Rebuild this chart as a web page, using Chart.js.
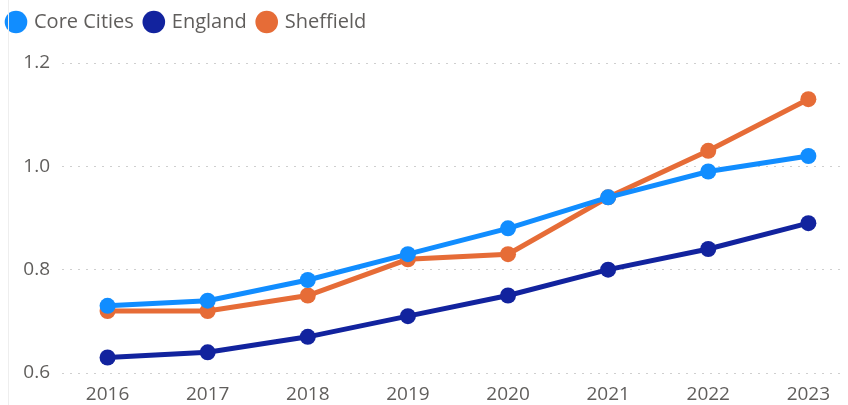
<!DOCTYPE html>
<html>
<head>
<meta charset="utf-8">
<script src="https://cdn.jsdelivr.net/npm/chart.js@4"></script>
<style>
  html, body { margin: 0; padding: 0; background: #fff; }
  #wrap { position: relative; width: 848px; height: 405px; }
  #wrap::before { content: ""; position: absolute; left: 8px; top: 0; bottom: 0; width: 1px; background: #eeeeee; }
</style>
</head>
<body>
<div id="wrap"><canvas id="chart" width="848" height="405"></canvas></div>
<script>
const years = [2016, 2017, 2018, 2019, 2020, 2021, 2022, 2023];
const coreCities = [0.73, 0.74, 0.78, 0.83, 0.88, 0.94, 0.99, 1.02];
const england = [0.63, 0.64, 0.67, 0.71, 0.75, 0.80, 0.84, 0.89];
const sheffield = [0.72, 0.72, 0.75, 0.82, 0.83, 0.94, 1.03, 1.13];
const yTicks = [0.6, 0.8, 1.0, 1.2];

const TEXT = "#605E5C";
const FONT = "'Open Sans', 'Noto Sans', sans-serif";

function series(label, values, color) {
  return {
    label,
    data: years.map((y, i) => ({ x: y, y: values[i] })),
    borderColor: color,
    backgroundColor: color,
    borderWidth: 5,
    pointRadius: 8,
    pointHoverRadius: 8,
    pointBorderWidth: 0,
    tension: 0,
  };
}

// extra space between the legend row and the plot area
const legendGap = {
  id: "legendGap",
  afterInit(chart) {
    const legend = chart.legend;
    if (!legend) return;
    const fit = legend.fit;
    legend.fit = function () {
      fit.call(this);
      this.height += 21;
    };
  },
};

new Chart(document.getElementById("chart"), {
  type: "line",
  data: {
    datasets: [
      series("Core Cities", coreCities, "#118DFF"),
      series("England", england, "#12239E"),
      series("Sheffield", sheffield, "#E66C37"),
    ],
  },
  plugins: [legendGap],
  options: {
    responsive: false,
    animation: false,
    layout: { padding: { left: -4, right: 0, top: 0, bottom: 0 } },
    plugins: {
      tooltip: { enabled: false },
      legend: {
        position: "top",
        align: "start",
        labels: {
          usePointStyle: true,
          pointStyle: "circle",
          boxWidth: 16,
          boxHeight: 16,
          padding: 12,
          color: TEXT,
          font: { family: FONT, size: 20 },
        },
      },
    },
    scales: {
      x: {
        type: "linear",
        min: 2015.545,
        max: 2023.316,
        afterBuildTicks: (axis) => {
          axis.ticks = years.map((v) => ({ value: v }));
        },
        ticks: {
          color: TEXT,
          font: { family: FONT, size: 19 },
          callback: (v) => String(v),
          maxRotation: 0,
          padding: 2,
        },
        grid: { display: false },
        border: { display: false },
        afterFit: (axis) => { axis.height = 32; },
      },
      y: {
        min: 0.6,
        max: 1.2,
        afterBuildTicks: (axis) => {
          axis.ticks = yTicks.map((v) => ({ value: v }));
        },
        ticks: {
          color: TEXT,
          font: { family: FONT, size: 19 },
          callback: (v) => v.toFixed(1),
          padding: 12,
        },
        grid: { color: "#cfcfcf", lineWidth: 1, drawTicks: false },
        border: { display: false, dash: [2, 6] },
        afterFit: (axis) => { axis.width = 66; },
      },
    },
  },
});
</script>
</body>
</html>
